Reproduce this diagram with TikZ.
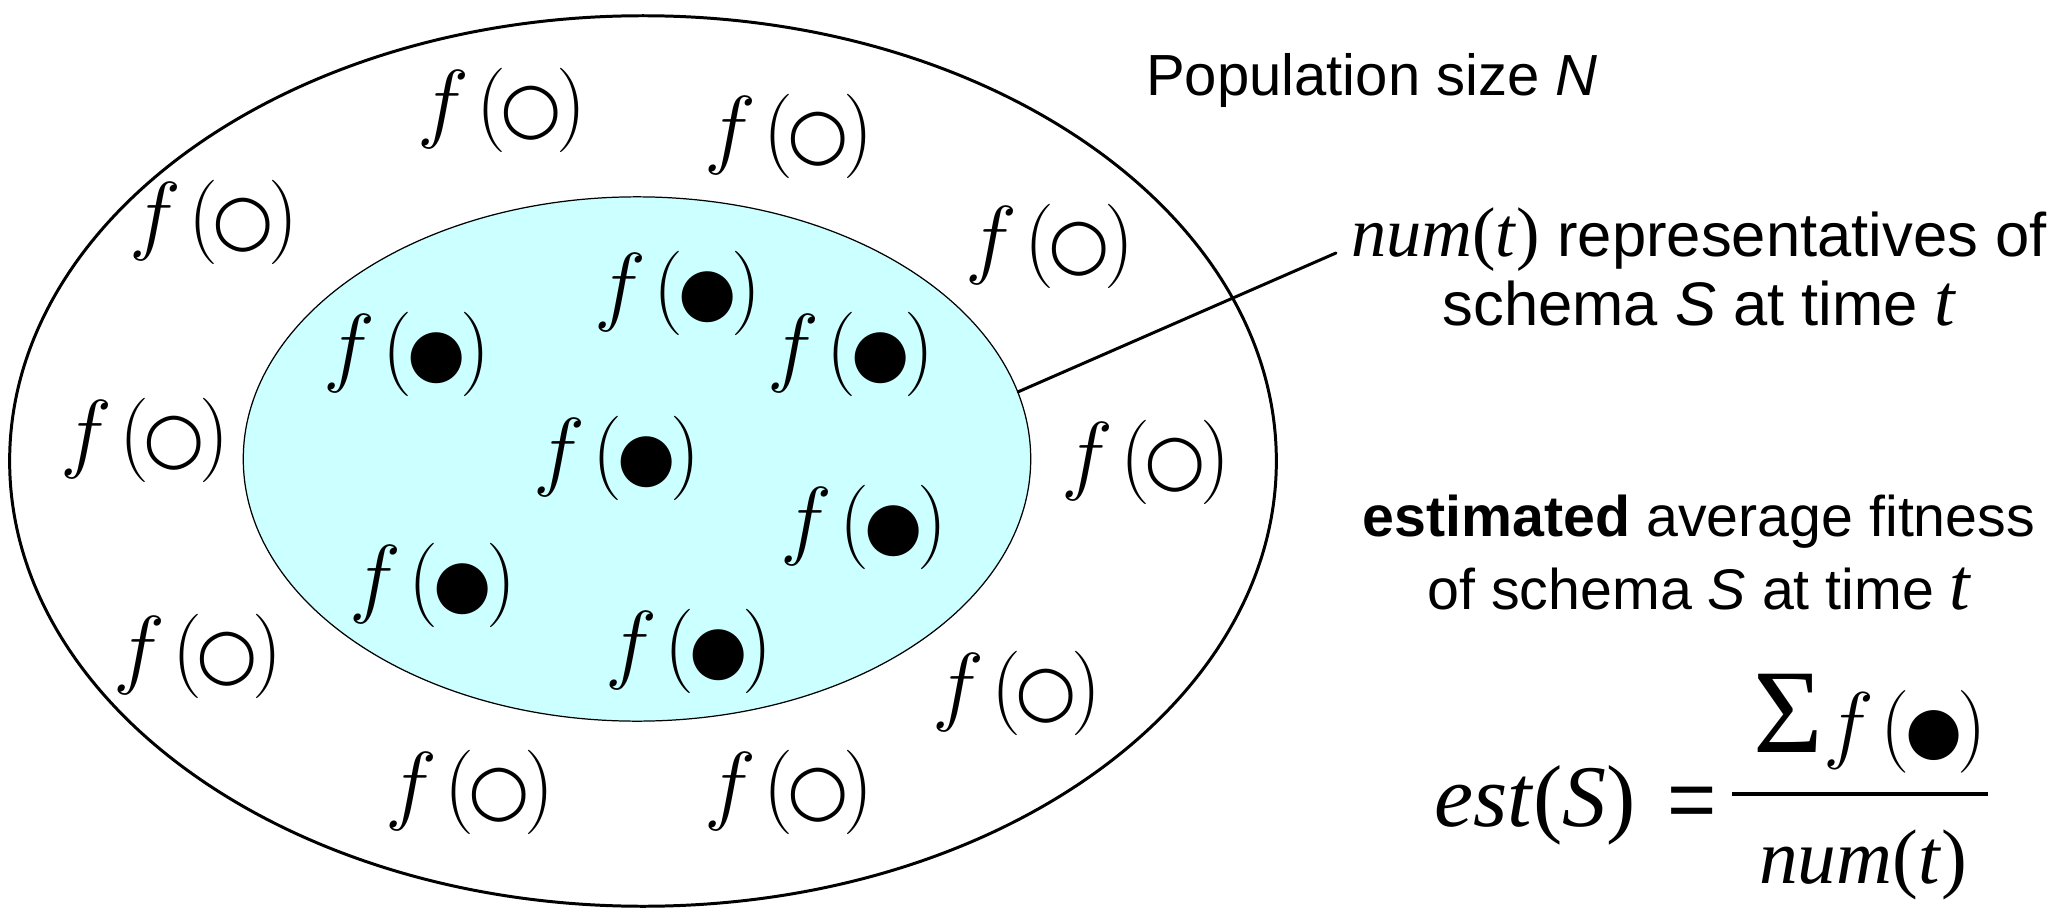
\RequirePackage{fix-cm}
\documentclass[tikz,border=0pt]{standalone}
\usepackage[no-math]{fontspec}
\usetikzlibrary{shapes.geometric}
\setmainfont{Liberation Sans}
\newfontfamily\serifit{Liberation Serif}
\newfontfamily\dotfont{DejaVu Sans}
\definecolor{schemacyan}{RGB}{204,255,255}
\newcommand{\opendot}{{\dotfont\fontsize{20}{20}\selectfont ○}}
\newcommand{\fulldot}{\scalebox{0.95}{\dotfont\fontsize{20}{20}\selectfont ●}}
\newcommand{\fit}[1]{{\fontsize{25}{25}\selectfont$f$}\kern2pt{\fontsize{24}{24}\selectfont$($}\kern-1.5pt#1\kern-1.5pt{\fontsize{24}{24}\selectfont$)$}}
\newcommand{\numt}{{\serifit\fontsize{20}{20}\selectfont\itshape num\/\upshape(\itshape t\/\upshape)}}
\newcommand{\tvar}{{\serifit\fontsize{21}{20}\selectfont\itshape t}}

\begin{document}
\begin{tikzpicture}[x=0.01cm, y=-0.01cm, line join=round, line cap=round,
	popmember/.style={font=\fontsize{20}{24}\selectfont, inner sep=0pt},
	sanslabel/.style={font=\fontsize{16.5}{20.5}\selectfont, align=center, inner sep=0pt}]
	\useasboundingbox (0,0) rectangle (2071,909);
	\node[ellipse, draw, line width=0.85pt, minimum width=12.66cm, minimum height=8.9cm, inner sep=0pt] (pop) at (643,461) {};
	\node[ellipse, draw, line width=0.35pt, fill=schemacyan, minimum width=7.87cm, minimum height=5.24cm, inner sep=0pt] (schema) at (637,459) {};
	\foreach \px/\py [count=\i] in {502/110,789/136,214/222,1050/246,145/440,1146/462,198/656,1017/693,470/792,789/792}
		\node[popmember] (out\i) at (\px,\py) {\fit{\opendot}};
	\foreach \px/\py [count=\i] in {678/293,407/354,851/354,617/458,864/527,433/585,689/651}
		\node[popmember] (in\i) at (\px,\py) {\fit{\fulldot}};
	\node[sanslabel, anchor=base] (popsize) at (1372,96) {Population size \textit{N}};
	\coordinate (tip) at (1336,253);
	\draw[line width=0.85pt] (schema.10) -- (tip);
	\node[sanslabel, anchor=base, font=\fontsize{17.5}{19.5}\selectfont] (reps) at (1699,325) {\numt{} representatives of\\ schema \textit{S} at time \tvar};
	\node[sanslabel, anchor=base, font=\fontsize{16.3}{20.5}\selectfont] (estfit) at (1699,609) {\textbf{estimated} average fitness\\ of schema \textit{S} at time \tvar};
	\node[font=\serifit\fontsize{25}{30}\selectfont, inner sep=0pt] (estS) at (1535,805) {\textit{est}(\textit{S})};
	\node[font=\fontsize{24}{28}\selectfont, inner sep=0pt] (eq) at (1692,808) {=};
	\node[inner sep=0pt, font=\fontsize{20}{24}\selectfont] (sumf) at (1870,724) {{\serifit\fontsize{34}{34}\selectfont Σ}\scalebox{0.98}{\fit{\fulldot}}};
	\node[font=\serifit\fontsize{22}{26}\selectfont, inner sep=0pt] (numt) at (1863,865) {\textit{num}(\textit{t})};
	\draw[line width=1.1pt, line cap=butt] (1732,794) -- (1988,794);
\end{tikzpicture}
\end{document}
